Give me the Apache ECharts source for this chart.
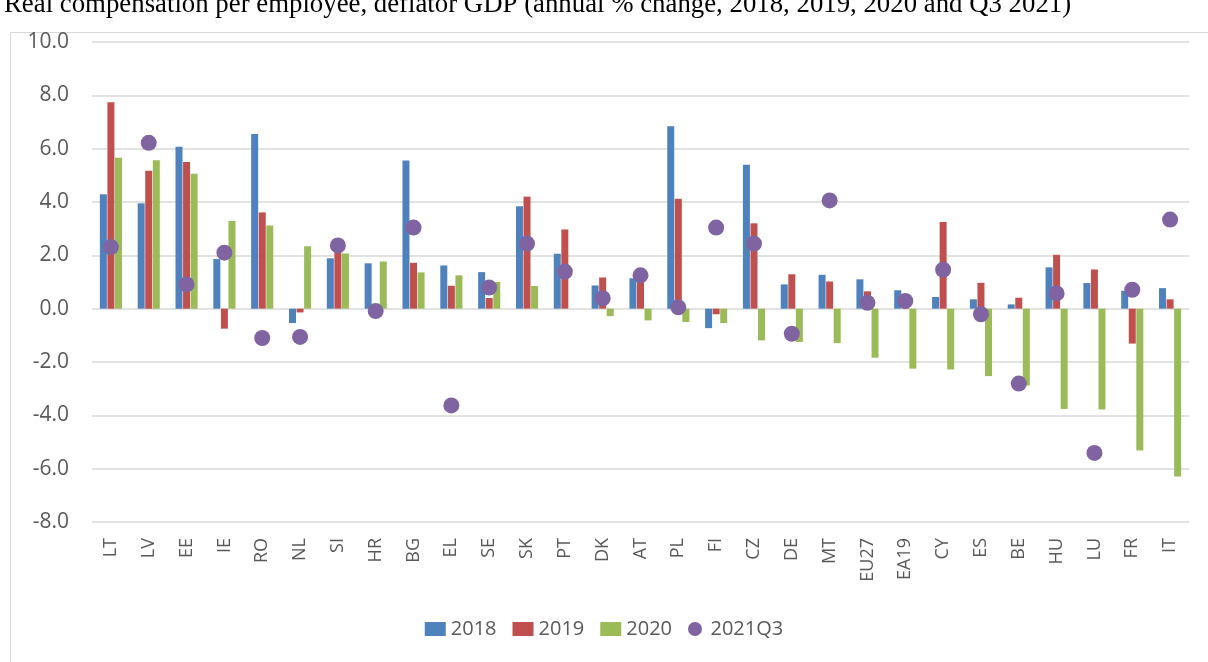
<!DOCTYPE html>
<html>
<head>
<meta charset="utf-8">
<script src="https://cdn.jsdelivr.net/npm/echarts@6/dist/echarts.min.js"></script>
<style>
  html, body { margin: 0; padding: 0; background: #fff; }
  #chart { width: 1208px; height: 662px; }
</style>
</head>
<body>
<div id="chart"></div>
<script>
// countries, in the order of the chart
var countries = ['LT', 'LV', 'EE', 'IE', 'RO', 'NL', 'SI', 'HR', 'BG', 'EL', 'SE', 'SK', 'PT', 'DK', 'AT',
  'PL', 'FI', 'CZ', 'DE', 'MT', 'EU27', 'EA19', 'CY', 'ES', 'BE', 'HU', 'LU', 'FR', 'IT'];

// annual % change
var v2018 = [4.29, 3.95, 6.07, 1.86, 6.55, -0.54, 1.89, 1.70, 5.56, 1.62, 1.37, 3.84, 2.06, 0.87, 1.14,
  6.84, -0.73, 5.40, 0.91, 1.27, 1.10, 0.69, 0.44, 0.35, 0.16, 1.55, 0.96, 0.67, 0.77];
var v2019 = [7.74, 5.17, 5.50, -0.75, 3.61, -0.14, 2.19, 0, 1.72, 0.86, 0.40, 4.20, 2.97, 1.17, 1.10,
  4.12, -0.21, 3.20, 1.29, 1.02, 0.65, 0.45, 3.25, 0.97, 0.41, 2.02, 1.47, -1.31, 0.35];
var v2020 = [5.66, 5.57, 5.06, 3.29, 3.12, 2.34, 2.07, 1.77, 1.36, 1.25, 1.00, 0.85, 0, -0.28, -0.44,
  -0.50, -0.54, -1.19, -1.25, -1.29, -1.84, -2.25, -2.28, -2.53, -2.88, -3.76, -3.78, -5.32, -6.29];
var v2021q3 = [2.31, 6.22, 0.91, 2.10, -1.10, -1.06, 2.37, -0.09, 3.04, -3.63, 0.79, 2.44, 1.39, 0.39, 1.25,
  0.05, 3.04, 2.44, -0.94, 4.06, 0.22, 0.29, 1.46, -0.21, -2.81, 0.57, -5.41, 0.71, 3.34];

var yTicks = { min: -8, max: 10, step: 2 };

var chart = echarts.init(document.getElementById('chart'));

function barSeries(name, data, color) {
  return {
    name: name,
    type: 'bar',
    data: data,
    barWidth: 7,
    barGap: '8%',
    itemStyle: { color: color },
    emphasis: { disabled: true }
  };
}

var option = {
  animation: false,
  title: {
    text: 'Real compensation per employee, deflator GDP (annual % change, 2018, 2019, 2020 and Q3 2021)',
    left: -1,
    top: -14,
    textStyle: { fontFamily: 'Liberation Serif', fontSize: 26.8, fontWeight: 'normal', color: '#000' }
  },
  graphic: [{
    type: 'rect',
    shape: { x: 10.5, y: 32.5, width: 1220, height: 660 },
    style: { fill: 'none', stroke: '#d9d9d9', lineWidth: 1 },
    silent: true,
    z: -1
  }],
  grid: { left: 92, right: 19, top: 42, bottom: 140 },
  legend: {
    bottom: 18,
    left: 'center',
    itemWidth: 21,
    itemHeight: 14,
    itemGap: 16,
    textStyle: { fontFamily: 'Open Sans', fontSize: 20, color: '#595959' },
    data: [
      { name: '2018', icon: 'rect' },
      { name: '2019', icon: 'rect' },
      { name: '2020', icon: 'rect' },
      { name: '2021Q3', icon: 'circle' }
    ]
  },
  xAxis: {
    type: 'category',
    data: countries,
    axisLine: { show: false },
    axisTick: { show: false },
    axisLabel: {
      rotate: 90,
      margin: 16,
      interval: 0,
      fontFamily: 'Open Sans',
      fontSize: 18,
      color: '#595959'
    }
  },
  yAxis: {
    type: 'value',
    min: yTicks.min,
    max: yTicks.max,
    interval: yTicks.step,
    axisLine: { show: false },
    axisTick: { show: false },
    axisLabel: {
      margin: 23,
      fontFamily: 'Open Sans',
      fontSize: 21,
      color: '#595959',
      formatter: function (v) { return v.toFixed(1); }
    },
    splitLine: { lineStyle: { color: '#d9d9d9', width: 1.5 } }
  },
  series: [
    barSeries('2018', v2018, '#4f81bd'),
    barSeries('2019', v2019, '#c0504d'),
    barSeries('2020', v2020, '#9bbb59'),
    {
      name: '2021Q3',
      type: 'scatter',
      data: v2021q3,
      symbol: 'circle',
      symbolSize: 16,
      itemStyle: { color: '#8064a2', opacity: 1 },
      z: 5,
      emphasis: { disabled: true }
    }
  ]
};

chart.setOption(option);
</script>
</body>
</html>
